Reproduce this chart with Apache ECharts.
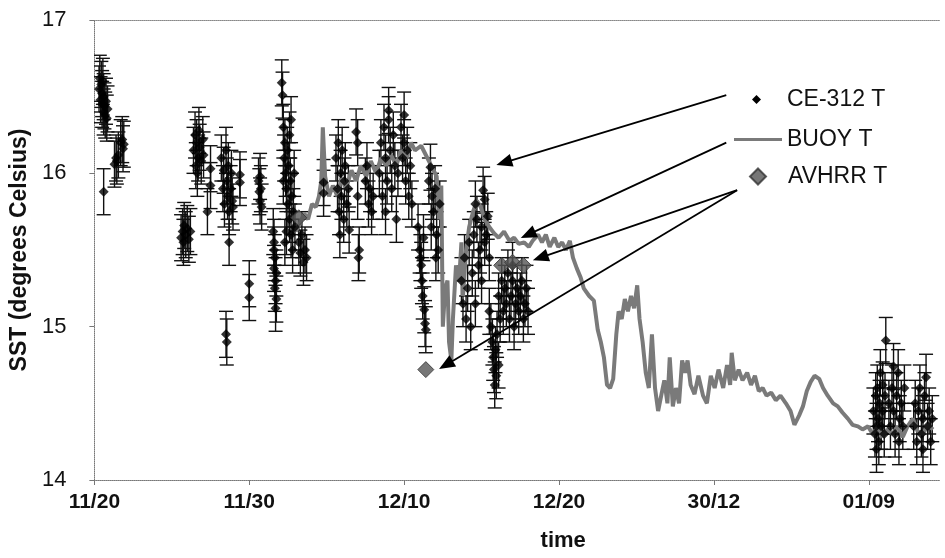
<!DOCTYPE html>
<html lang="en" style="height: 100%">
<head>
  <meta charset="utf-8">
</head>
<body style="height: 100%; margin: 0; background: #fff">
  <div id="container" style="width: 945px; height: 558px"></div>

  <script type="text/javascript" src="https://cdn.jsdelivr.net/npm/echarts@6/dist/echarts.min.js"></script>
  <script type="text/javascript">
    // x values are days after 11/20
    var xTickLabels = ['11/20', '11/30', '12/10', '12/20', '30/12', '01/09'];
    var ceErr = 0.15;

    var ceDays = [
      0.3, 0.35, 0.4, 0.45, 0.5, 0.5, 0.55, 0.6, 0.6, 0.65, 0.7, 0.75, 0.8, 0.85, 0.6,
      1.3, 1.4, 1.45, 1.55, 1.7, 1.8, 1.85, 1.9,
      5.6, 5.7, 5.75, 5.8, 5.9, 6.0, 6.1, 6.2,
      6.4, 6.5, 6.55, 6.6, 6.7, 6.75, 6.8, 6.9, 7.0, 7.05, 6.65,
      7.5, 7.5, 7.3,
      8.2, 8.3, 8.35, 8.4, 8.5, 8.55, 8.6, 8.65, 8.7, 8.8, 8.85, 8.9, 8.95, 8.7, 8.5, 8.55,
      9.4, 9.4, 10.0, 10.0,
      10.6, 10.65, 10.7, 10.75, 10.8, 10.7,
      11.55, 11.6, 11.65, 11.6, 11.7, 11.65, 11.75, 11.7, 11.6, 11.75,
      12.1, 12.15, 12.2, 12.3, 12.25, 12.35, 12.4, 12.45, 12.5, 12.55, 12.6, 12.65, 12.7, 12.75,
      12.8, 12.85, 12.9, 12.95, 12.2, 12.3, 12.4, 12.6, 12.7,
      13.2, 13.3, 13.4, 13.5, 13.6, 13.7,
      14.8, 14.8,
      15.6, 15.7, 15.75, 15.8, 15.9, 15.95, 16.0, 16.1, 16.15, 16.2, 16.3, 16.4, 16.45, 15.85,
      16.9, 17.0, 17.0, 17.05, 17.1,
      17.5, 17.6, 17.7, 17.8, 17.9, 18.0,
      18.4, 18.5, 18.6, 18.7, 18.8, 18.9, 19.0, 19.1, 19.2, 19.3, 19.4, 19.5, 19.6, 18.8, 19.0,
      19.8, 19.9, 20.0, 20.1, 20.2, 20.3, 20.4, 20.5, 20.0,
      20.9, 21.0, 21.1, 21.15, 21.2, 21.3, 21.35, 21.25, 21.05, 21.4,
      21.6, 21.7, 21.8, 21.9, 22.0, 22.1, 22.2, 22.3, 21.75, 22.05,
      23.7, 23.8, 23.9, 24.0, 24.1, 24.2, 24.3, 24.4, 24.5, 24.6, 24.7, 24.8, 24.9, 25.0, 25.1,
      25.2, 25.3, 25.4, 25.5, 24.6, 25.0, 25.2,
      25.5, 25.6, 25.7, 25.75, 25.8, 25.9, 25.95, 26.0, 26.1, 26.2, 25.85,
      26.1, 26.3, 26.4, 26.5, 26.6, 26.7, 26.8, 26.9, 27.0, 27.1, 27.2, 27.3, 27.4, 27.5, 27.6,
      27.7, 27.8, 27.9, 28.0, 27.0,
      50.3, 50.4, 50.45, 50.5, 50.55, 50.6, 50.65, 50.7, 50.75, 50.8, 50.9, 51.0, 51.05, 51.1, 50.9, 50.5,
      51.3, 51.4, 51.5, 51.6, 51.7, 51.8, 51.9, 52.0, 52.1, 52.2, 52.3, 51.6, 51.95,
      52.9, 53.0, 53.1, 53.2, 53.3, 53.4, 53.5, 53.6, 53.7, 53.8, 53.9, 54.0, 54.1, 53.5
    ];
    var ceTemps = [
      16.55, 16.62, 16.48, 16.58, 16.45, 16.52, 16.6, 16.4, 16.5, 16.44, 16.38, 16.47, 16.36, 16.42, 15.88,
      16.06, 16.1, 16.08, 16.12, 16.2, 16.22, 16.16, 16.19,
      15.58, 15.62, 15.55, 15.66, 15.6, 15.64, 15.57, 15.62,
      16.15, 16.25, 16.05, 16.2, 16.1, 16.28, 16.17, 16.08, 16.22, 16.12, 16.0,
      16.03, 15.92, 15.75,
      16.1, 15.9, 16.02, 15.8, 16.15, 15.95, 15.85, 16.05, 15.75, 15.9, 16.0, 15.82, 15.78, 15.55, 14.95, 14.9,
      15.99, 15.94, 15.28, 15.19,
      15.95, 15.88, 15.82, 15.9, 15.78, 15.98,
      15.62, 15.5, 15.45, 15.38, 15.3, 15.25, 15.18, 15.12, 15.55, 15.35,
      16.59, 16.51, 16.3, 16.2, 16.1, 16.0, 15.9, 16.15, 15.8, 16.05, 15.7, 15.95, 15.6, 15.85,
      15.5, 15.75, 16.0, 15.65, 15.95, 15.55, 15.62, 16.25, 16.35,
      15.55, 15.48, 15.6, 15.42, 15.5, 15.45,
      15.94, 15.87,
      16.1, 15.9, 16.2, 15.75, 16.0, 15.85, 16.15, 15.7, 15.95, 16.05, 15.8, 15.9, 15.63, 15.6,
      16.27, 16.2, 15.85, 15.45, 15.5,
      15.95, 16.05, 15.8, 15.9, 15.75, 15.85,
      16.0, 16.2, 15.85, 16.3, 16.1, 15.95, 16.35, 16.15, 15.9, 16.25, 16.05, 15.7, 16.0, 15.75, 16.41,
      16.3, 16.1, 16.2, 15.95, 16.15, 15.85, 16.05, 15.8, 16.38,
      15.65, 15.5, 15.4, 15.3, 15.2, 15.11, 15.02, 15.58, 15.45, 14.98,
      15.95, 16.04, 15.85, 15.75, 15.9, 15.6, 15.5, 15.8, 15.65, 15.45,
      15.3, 15.15, 15.45, 15.05, 15.25, 15.55, 15.0, 15.35, 15.6, 15.15, 15.7, 15.4, 15.5, 15.65, 15.89,
      15.83, 15.6, 15.72, 15.45, 15.8, 15.3, 15.55,
      15.1, 15.0, 14.9, 14.8, 14.72, 14.85, 14.68, 14.95, 14.75, 15.05, 14.62,
      15.2, 15.3, 15.1, 15.25, 15.15, 15.35, 15.05, 15.2, 15.3, 15.0, 15.15, 15.25, 15.1, 15.2, 15.3,
      15.05, 15.15, 15.25, 15.1, 15.4,
      14.45, 14.3, 14.55, 14.35, 14.6, 14.4, 14.25, 14.5, 14.7, 14.35, 14.45, 14.3, 14.55, 14.91, 14.62, 14.2,
      14.5, 14.35, 14.6, 14.45, 14.3, 14.55, 14.7, 14.4, 14.5, 14.35, 14.6, 14.74, 14.25,
      14.35, 14.5, 14.25, 14.45, 14.6, 14.3, 14.4, 14.55, 14.67, 14.35, 14.45, 14.25, 14.4, 14.2
    ];

    var buoyDays = [
      13.0, 13.3, 13.55, 13.8, 14.05, 14.3, 14.5, 14.65, 14.75, 14.9, 15.15, 15.4, 15.7, 15.95,
      16.25, 16.6, 16.9, 17.2, 17.55, 17.85, 18.2, 18.5, 18.85, 19.15, 19.5, 19.8, 20.15, 20.45,
      20.7, 21.1, 22.1, 22.25, 22.4, 22.5, 22.65, 22.8, 22.9, 23.05, 23.15, 23.35, 23.55, 23.7,
      23.8, 24.0, 24.2, 24.45, 24.7, 24.95, 25.2, 25.5, 25.8, 26.1, 26.45, 26.8, 27.1, 27.4,
      27.75, 28.05, 28.3, 28.65, 28.9, 29.15, 29.4, 29.7, 29.95, 30.2, 30.45, 30.7, 30.9, 31.15,
      31.4, 31.6, 31.95, 32.25, 32.5, 32.7, 32.9, 33.1, 33.3, 33.5, 33.7, 33.85, 34.05, 34.25,
      34.45, 34.65, 34.85, 35.05, 35.2, 35.4, 35.6, 35.8, 36.0, 36.2, 36.4, 36.6, 36.8, 37.0,
      37.15, 37.35, 37.55, 37.75, 37.95, 38.15, 38.3, 38.5, 38.75, 39.0, 39.3, 39.55, 39.8, 40.05,
      40.3, 40.6, 40.85, 41.05, 41.15, 41.35, 41.6, 41.85, 42.15, 42.4, 42.65, 42.9, 43.15, 43.4,
      43.7, 44.0, 44.3, 44.65, 44.95, 45.2, 45.5, 45.75, 46.0, 46.25, 46.5, 46.8, 47.05, 47.35,
      47.7, 48.0, 48.3, 48.65, 48.95, 49.3, 49.6, 49.95, 50.25, 50.6, 50.9, 51.2, 51.55, 51.85,
      52.2, 52.5, 52.85, 53.15, 53.5, 53.8, 54.15
    ];
    var buoyTemps = [
      15.62, 15.68, 15.74, 15.7, 15.8, 15.78, 15.85, 15.95, 16.3, 15.98, 15.85, 15.92, 15.85, 15.97,
      15.9, 16.02, 15.95, 16.05, 15.98, 16.08, 16.0, 16.1, 16.05, 16.12, 16.05, 16.15, 16.1, 16.2,
      16.15, 16.18, 15.98, 15.7, 15.92, 15.0, 15.25, 15.3, 14.9, 14.78, 15.05, 15.4, 15.3, 15.55,
      15.2, 15.5, 15.65, 15.75, 15.82, 15.78, 15.7, 15.65, 15.61, 15.58, 15.62, 15.56, 15.58, 15.54,
      15.55, 15.52, 15.56, 15.6, 15.55, 15.6, 15.52, 15.58, 15.52, 15.55, 15.5, 15.56, 15.45, 15.38,
      15.32, 15.25, 15.2, 15.17, 14.98, 14.9, 14.8, 14.62, 14.6, 14.66, 14.95, 15.1, 15.05, 15.18,
      15.1, 15.2, 15.12, 15.27, 15.05, 14.9, 14.7, 14.6, 14.95, 14.6, 14.45, 14.55, 14.65, 14.5,
      14.8, 14.48, 14.6, 14.5, 14.78, 14.7, 14.78, 14.62, 14.56, 14.68, 14.55, 14.5, 14.68, 14.6,
      14.72, 14.6, 14.75, 14.62, 14.83, 14.65, 14.72, 14.65, 14.7, 14.62, 14.68, 14.58, 14.6, 14.55,
      14.57, 14.52, 14.55, 14.5, 14.45, 14.36, 14.42, 14.48, 14.58, 14.64, 14.68, 14.66, 14.6, 14.55,
      14.5, 14.48, 14.44, 14.4, 14.36, 14.35, 14.33, 14.35, 14.3, 14.35, 14.28, 14.33, 14.3, 14.35,
      14.28, 14.35, 14.4, 14.32, 14.3, 14.36, 14.33
    ];

    var avhrrDays = [13.2, 21.4, 26.3, 27.0, 27.7];
    var avhrrTemps = [15.71, 14.72, 15.4, 15.42, 15.4];

    // annotation arrows: [fromDay, fromT, toDay, toT]
    var arrows = [
      [40.8, 16.51, 26.45, 16.07],
      [40.8, 16.20, 28.0, 15.60],
      [41.5, 15.89, 28.8, 15.45],
      [41.5, 15.89, 22.7, 14.75]
    ];

    var FONT = '"Liberation Sans", Arial, sans-serif';

    var ceData = ceDays.map(function (d, i) { return [d, ceTemps[i]]; });
    var ceErrData = ceDays.map(function (d, i) {
      return [d, ceTemps[i] - ceErr, ceTemps[i] + ceErr];
    });
    var buoyData = buoyDays.map(function (d, i) { return [d, buoyTemps[i]]; });
    var avhrrData = avhrrDays.map(function (d, i) { return [d, avhrrTemps[i]]; });
    var arrowLines = arrows.map(function (a) {
      return [{ coord: [a[0], a[1]] }, { coord: [a[2], a[3]] }];
    });

    function renderErrorBar(params, api) {
      var x = api.value(0);
      var top = api.coord([x, api.value(2)]);
      var bot = api.coord([x, api.value(1)]);
      var cap = 7;
      var style = { stroke: '#111', lineWidth: 1.4 };
      return {
        type: 'group',
        children: [
          { type: 'line', shape: { x1: top[0], y1: top[1], x2: bot[0], y2: bot[1] }, style: style },
          { type: 'line', shape: { x1: top[0] - cap, y1: top[1], x2: top[0] + cap, y2: top[1] }, style: style },
          { type: 'line', shape: { x1: bot[0] - cap, y1: bot[1], x2: bot[0] + cap, y2: bot[1] }, style: style }
        ]
      };
    }

    var legendText = { fontFamily: FONT, fontSize: 23, color: '#111' };

    var chart = echarts.init(document.getElementById('container'), null, { renderer: 'canvas' });
    var option = {
      animation: false,
      backgroundColor: '#fff',
      grid: { left: 93, right: 5, top: 20, bottom: 78 },
      legend: [
        {
          left: 752, top: 88, padding: 0, itemWidth: 9, itemHeight: 9, selectedMode: false,
          textStyle: { fontFamily: FONT, fontSize: 23, color: '#111', padding: [0, 0, 0, 21] },
          data: [{ name: 'CE-312 T', icon: 'diamond', itemStyle: { color: '#000' } }]
        },
        {
          left: 734, top: 128, padding: 0, itemWidth: 48, itemHeight: 3, selectedMode: false,
          textStyle: legendText,
          data: [{ name: 'BUOY T', icon: 'rect', itemStyle: { color: '#7a7a7a' } }]
        },
        {
          left: 749, top: 165, padding: 0, itemWidth: 16, itemHeight: 16, selectedMode: false,
          textStyle: { fontFamily: FONT, fontSize: 23, color: '#111', padding: [0, 0, 0, 17] },
          data: [{ name: 'AVHRR T', icon: 'diamond', itemStyle: { color: '#555' } }]
        }
      ],
      xAxis: [
        {
          type: 'value',
          min: 0,
          max: 54.6,
          interval: 10,
          name: 'time',
          nameLocation: 'middle',
          nameGap: 50,
          nameTextStyle: { fontFamily: FONT, fontSize: 22, fontWeight: 'bold', color: '#111', padding: [0, 0, 0, 92] },
          axisLine: { lineStyle: { color: '#777', type: 'dotted', width: 1 } },
          axisTick: { show: true, length: 5, lineStyle: { color: '#777' } },
          splitLine: { show: false },
          axisLabel: {
            fontFamily: FONT, fontSize: 21, fontWeight: 'bold', color: '#111', margin: 12,
            showMaxLabel: false,
            formatter: function (v) {
              var i = Math.round(v / 10);
              return Math.abs(v - i * 10) < 0.01 && xTickLabels[i] ? xTickLabels[i] : '';
            }
          }
        },
        {
          type: 'value', position: 'top', min: 0, max: 54.6,
          axisLine: { show: true, lineStyle: { color: '#888', type: 'dotted', width: 1 } },
          axisTick: { show: false }, axisLabel: { show: false }, splitLine: { show: false }
        }
      ],
      yAxis: {
        type: 'value',
        min: 14,
        max: 17,
        interval: 1,
        name: 'SST (degrees Celsius)',
        nameLocation: 'middle',
        nameGap: 56,
        nameTextStyle: { fontFamily: FONT, fontSize: 23, fontWeight: 'bold', color: '#111' },
        axisLine: { show: true, lineStyle: { color: '#777', type: 'dotted', width: 1 } },
        axisTick: { show: true, length: 5, lineStyle: { color: '#777' } },
        splitLine: { show: false },
        axisLabel: { fontFamily: FONT, fontSize: 22, color: '#111', margin: 28 }
      },
      series: [
        {
          name: 'CE-312 T',
          type: 'custom',
          renderItem: renderErrorBar,
          data: ceErrData,
          encode: { x: 0, y: [1, 2] },
          clip: true,
          z: 2
        },
        {
          name: 'BUOY T',
          type: 'line',
          data: buoyData,
          showSymbol: false,
          symbol: 'none',
          lineStyle: { color: '#7a7a7a', width: 4 },
          itemStyle: { color: '#7a7a7a' },
          z: 3
        },
        {
          name: 'CE-312 T',
          type: 'scatter',
          data: ceData,
          symbol: 'diamond',
          symbolSize: 10,
          itemStyle: { color: '#000' },
          z: 4
        },
        {
          name: 'AVHRR T',
          type: 'scatter',
          data: avhrrData,
          symbol: 'diamond',
          symbolSize: 16,
          itemStyle: { color: '#555', borderColor: '#333', borderWidth: 1 },
          z: 5,
          markLine: {
            silent: true,
            symbol: ['none', 'triangle'],
            symbolSize: [13, 16],
            label: { show: false },
            lineStyle: { color: '#000', width: 1.8, type: 'solid' },
            data: arrowLines
          }
        }
      ]
    };
    chart.setOption(option);
    window.addEventListener('resize', chart.resize);
  </script>
</body>
</html>
